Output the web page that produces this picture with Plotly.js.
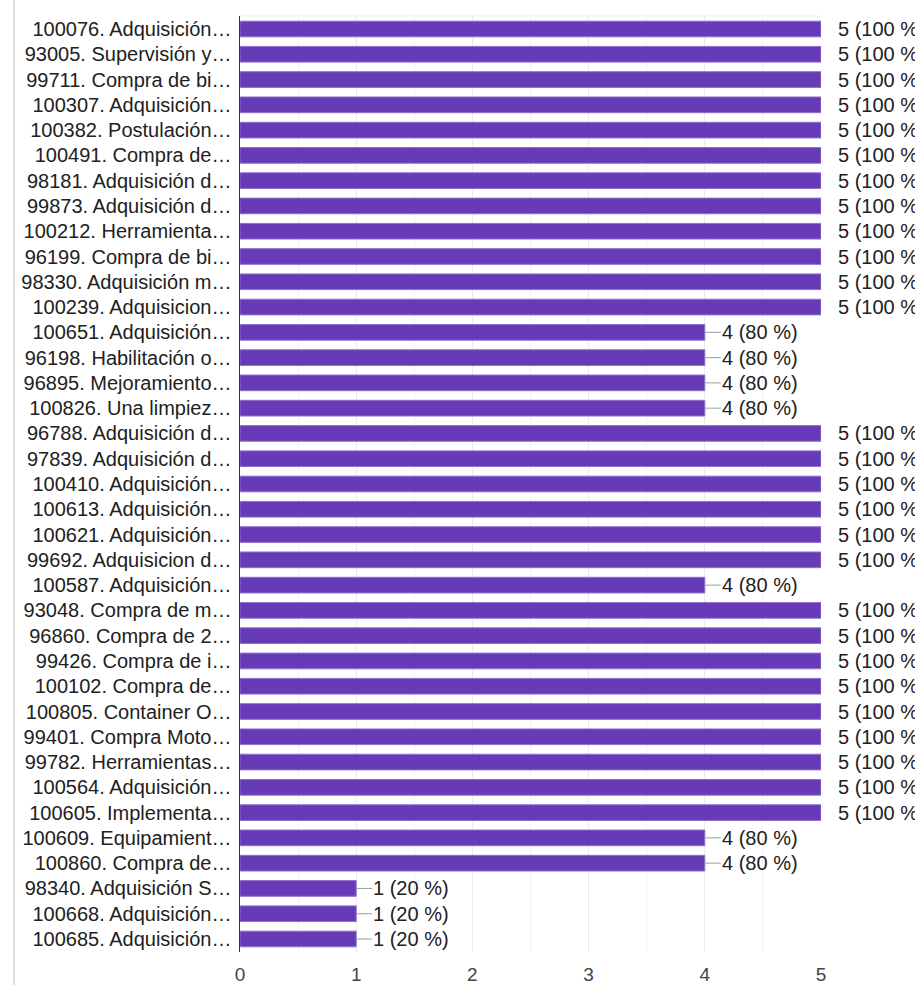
<!DOCTYPE html>
<html>
<head>
<meta charset="utf-8">
<script src="https://cdn.plot.ly/plotly-3.0.1.min.js"></script>
<style>
  html, body { margin: 0; padding: 0; background: #ffffff; }
  #chart { width: 915px; height: 985px; }
</style>
</head>
<body>
<div id="chart"></div>
<script>
const categories = [
  "100076. Adquisición…",
  "93005. Supervisión y…",
  "99711. Compra de bi…",
  "100307. Adquisición…",
  "100382. Postulación…",
  "100491. Compra de…",
  "98181. Adquisición d…",
  "99873. Adquisición d…",
  "100212. Herramienta…",
  "96199. Compra de bi…",
  "98330. Adquisición m…",
  "100239. Adquisicion…",
  "100651. Adquisición…",
  "96198. Habilitación o…",
  "96895. Mejoramiento…",
  "100826. Una limpiez…",
  "96788. Adquisición d…",
  "97839. Adquisición d…",
  "100410. Adquisición…",
  "100613. Adquisición…",
  "100621. Adquisición…",
  "99692. Adquisicion d…",
  "100587. Adquisición…",
  "93048. Compra de m…",
  "96860. Compra de 2…",
  "99426. Compra de i…",
  "100102. Compra de…",
  "100805. Container O…",
  "99401. Compra Moto…",
  "99782. Herramientas…",
  "100564. Adquisición…",
  "100605. Implementa…",
  "100609. Equipamient…",
  "100860. Compra de…",
  "98340. Adquisición S…",
  "100668. Adquisición…",
  "100685. Adquisición…"
];
const counts = [
  5, 5, 5, 5, 5, 5, 5, 5, 5, 5, 5, 5,
  4, 4, 4, 4,
  5, 5, 5, 5, 5, 5,
  4,
  5, 5, 5, 5, 5, 5, 5, 5, 5,
  4, 4,
  1, 1, 1
];
const totalResponses = 5;
const xTickVals = [0, 1, 2, 3, 4, 5];

const FONT = "Arial, 'Liberation Sans', sans-serif";
const TEXT = "#212121";
const BAR = "#673ab7";
const leaderLen = 0.138; // leader line length in axis units

const labels = counts.map(v => v + " (" + Math.round(v / totalResponses * 100) + " %)");

const trace = {
  type: "bar",
  orientation: "h",
  y: categories,
  x: counts,
  marker: { color: BAR, line: { color: "#8f6fd0", width: 1 } },
  hoverinfo: "x+y"
};

const annotations = categories.map((c, i) => ({
  x: counts[i], y: c, xref: "x", yref: "y",
  text: labels[i], showarrow: false,
  xanchor: "left", yanchor: "middle", xshift: 15,
  font: { family: FONT, size: 20, color: TEXT }
}));

const shapes = categories.map((c, i) => ({
  type: "line", xref: "x", yref: "y",
  x0: counts[i], x1: counts[i] + leaderLen, y0: c, y1: c,
  line: { color: "#9e9e9e", width: 1 }
}));
// frame decorations
shapes.push({ type: "line", xref: "paper", yref: "paper", x0: 0, x1: 1, y0: 1, y1: 1,
  line: { color: "#eeeeee", width: 1 } });
shapes.push({ type: "line", xref: "paper", yref: "paper", x0: -0.389, x1: -0.389, y0: -0.04, y1: 1.02,
  line: { color: "#dddddd", width: 2 } });

const layout = {
  width: 915, height: 985,
  margin: { l: 240, r: 94, t: 16, b: 33 },
  paper_bgcolor: "#ffffff", plot_bgcolor: "#ffffff",
  showlegend: false,
  bargap: 0.38,
  font: { family: FONT, size: 20, color: TEXT },
  xaxis: {
    range: [0, 5], tickvals: xTickVals, ticktext: xTickVals.map(String),
    showgrid: true, gridcolor: "#ebebeb", gridwidth: 1,
    minor: { dtick: 0.5, tick0: 0, showgrid: true, gridcolor: "#f2f2f2", gridwidth: 1 },
    zeroline: false, showline: false, ticks: "",
    ticklabelstandoff: 9,
    tickfont: { family: FONT, size: 19, color: "#444444" },
    fixedrange: true
  },
  yaxis: {
    type: "category", autorange: "reversed",
    showgrid: false, zeroline: false,
    showline: true, linecolor: "#333333", linewidth: 1.5,
    ticks: "", ticklabelstandoff: 3,
    tickfont: { family: FONT, size: 20, color: TEXT },
    fixedrange: true
  },
  annotations: annotations,
  shapes: shapes
};

Plotly.newPlot("chart", [trace], layout, { displayModeBar: false, staticPlot: true });
</script>
</body>
</html>
